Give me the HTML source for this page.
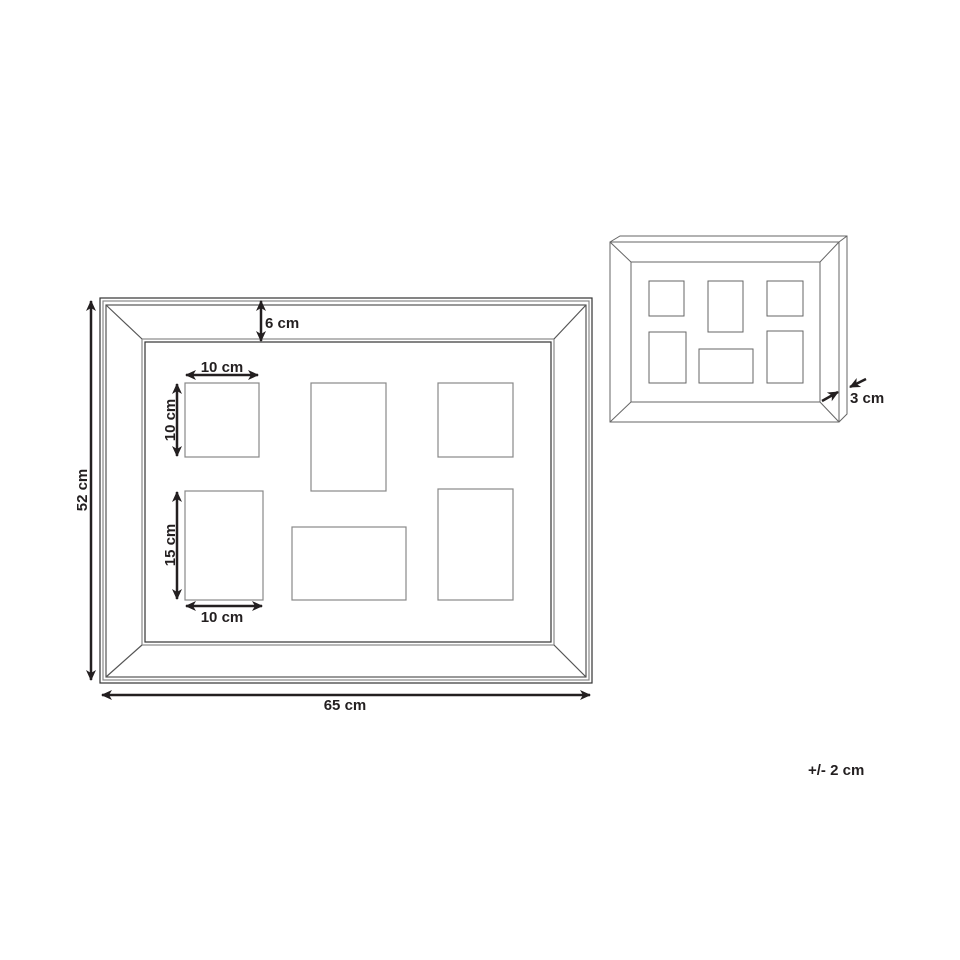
<!DOCTYPE html>
<html><head><style>body{margin:0;background:#fff}svg{display:block}text{font-family:"Liberation Sans",sans-serif;font-weight:bold;font-size:15px;fill:#231f20}</style></head><body>
<svg width="960" height="960" viewBox="0 0 960 960">
<defs><marker id="a" markerWidth="12" markerHeight="12" refX="10" refY="5" orient="auto-start-reverse" markerUnits="userSpaceOnUse"><path d="M0,0 L11,5 L0,10 L3,5Z" fill="#231f20"/></marker></defs>
<g fill="none" stroke="#555" stroke-width="1.2">
<rect x="100" y="298" width="492" height="385" stroke="#333"/>
<rect x="103" y="301" width="486" height="379" stroke="#888"/>
<rect x="106" y="305" width="480" height="372"/>
<rect x="142" y="339" width="412" height="306" stroke="#888"/>
<rect x="145" y="342" width="406" height="300" stroke="#333"/>
<line x1="106" y1="305" x2="142" y2="339"/><line x1="586" y1="305" x2="554" y2="339"/>
<line x1="106" y1="677" x2="142" y2="645"/><line x1="586" y1="677" x2="554" y2="645"/>
<g stroke="#888"><rect x="185" y="383" width="74" height="74"/><rect x="311" y="383" width="75" height="108"/><rect x="438" y="383" width="75" height="74"/>
<rect x="185" y="491" width="78" height="109"/><rect x="292" y="527" width="114" height="73"/><rect x="438" y="489" width="75" height="111"/></g>
</g>
<g stroke="#231f20" stroke-width="2.5" fill="none">
<line x1="91" y1="301" x2="91" y2="680" marker-start="url(#a)" marker-end="url(#a)"/>
<line x1="102" y1="695" x2="590" y2="695" marker-start="url(#a)" marker-end="url(#a)"/>
<line x1="261" y1="301" x2="261" y2="341" marker-start="url(#a)" marker-end="url(#a)"/>
<line x1="186" y1="375" x2="258" y2="375" marker-start="url(#a)" marker-end="url(#a)"/>
<line x1="177" y1="384" x2="177" y2="456" marker-start="url(#a)" marker-end="url(#a)"/>
<line x1="177" y1="492" x2="177" y2="599" marker-start="url(#a)" marker-end="url(#a)"/>
<line x1="186" y1="606" x2="262" y2="606" marker-start="url(#a)" marker-end="url(#a)"/>
<line x1="822" y1="401" x2="838" y2="392" marker-end="url(#a)"/>
<line x1="866" y1="379" x2="850" y2="387" marker-end="url(#a)"/>
</g>
<text x="265" y="328">6 cm</text>
<text x="222" y="372" text-anchor="middle">10 cm</text>
<text x="222" y="622" text-anchor="middle">10 cm</text>
<text x="345" y="710" text-anchor="middle">65 cm</text>
<text transform="translate(87,490) rotate(-90)" text-anchor="middle">52 cm</text>
<text transform="translate(175,420) rotate(-90)" text-anchor="middle">10 cm</text>
<text transform="translate(175,545) rotate(-90)" text-anchor="middle">15 cm</text>
<text x="850" y="403">3 cm</text>
<text x="808" y="775">+/- 2 cm</text>
<g fill="none" stroke="#666" stroke-width="1">
<rect x="610" y="242" width="229" height="180"/>
<polyline points="610,242 620,236 847,236 847,414 839,422"/><line x1="839" y1="242" x2="847" y2="236"/>
<rect x="631" y="262" width="189" height="140"/>
<line x1="610" y1="242" x2="631" y2="262"/><line x1="839" y1="242" x2="820" y2="262"/><line x1="610" y1="422" x2="631" y2="402"/><line x1="839" y1="422" x2="820" y2="402"/>
<rect x="649" y="281" width="35" height="35"/><rect x="708" y="281" width="35" height="51"/><rect x="767" y="281" width="36" height="35"/>
<rect x="649" y="332" width="37" height="51"/><rect x="699" y="349" width="54" height="34"/><rect x="767" y="331" width="36" height="52"/>
</g>
</svg></body></html>
